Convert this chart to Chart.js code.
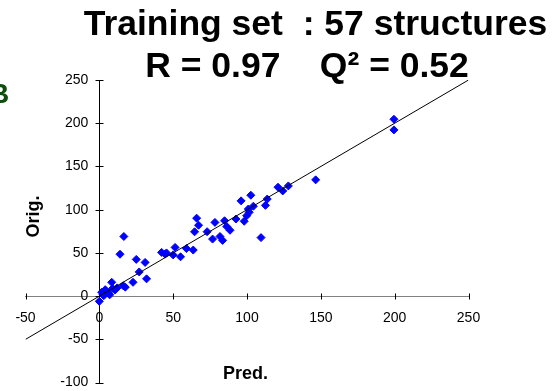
<!DOCTYPE html>
<html>
<head>
<meta charset="utf-8">
<script src="https://cdn.jsdelivr.net/npm/chart.js@4.4.0/dist/chart.umd.min.js"></script>
<style>
body{margin:0;background:#fff;}
#wrap{width:554px;height:391px;}
</style>
</head>
<body>
<div id="wrap"><canvas id="chart" width="554" height="391"></canvas></div>
<script>
// ---------------- DATA ----------------
const predX=[0,1.6,2.5,4,5,6,7,8.4,9,10.6,12,16.2,17.6,22.8,14,16.6,25,27,31,32,
  42.2,44.5,45.5,50,51.3,55,59,63.6,64.5,65.9,67.2,73,76.7,78.3,81.7,83.5,84.8,86.3,88.5,92.5,
  96,98.1,99.8,100.9,101.5,102.6,104.3,109.5,112.5,113.7,121,124.2,128,146.5,199.5,199.5,3];
const origY=[-6,4.5,2,7.5,5.5,3.5,1.5,16,9,7,9.5,12,10.4,16,48.5,69,42.5,28,39,20,
  50.6,48.6,50,47.7,56.4,45.5,55,53.3,74.4,90.2,82,74.5,66,85.3,69,64.5,87.2,80.5,76.2,89.2,
  110.2,86.6,93,100.8,97,116.7,104,67.7,105,112.3,126,121.7,127.5,134.5,204.6,192.3,0.5];
const lineX=[-50,250];
const lineY=[-50,250];
const xTicks=[-50,0,50,100,150,200,250];
const yTicks=[-100,-50,0,50,100,150,200,250];
const titleLines=["Training set  : 57 structures","R = 0.97    Q\u00b2 = 0.52"];

const FONT='"Liberation Sans", Arial, sans-serif';

// ---------------- PLUGINS ----------------
// ticks that cross the axis lines
const crossTicks={
  id:'crossTicks',
  beforeDatasetsDraw(chart){
    const {ctx,scales:{x,y}}=chart;
    const x0=Math.round(x.getPixelForValue(0))+0.5, y0=Math.round(y.getPixelForValue(0))+0.5;
    ctx.save();
    ctx.strokeStyle='#000';ctx.lineWidth=1;
    ctx.beginPath();
    xTicks.forEach(v=>{const px=Math.round(x.getPixelForValue(v))+0.5;ctx.moveTo(px,y0-3);ctx.lineTo(px,y0+3);});
    yTicks.forEach(v=>{const py=Math.round(y.getPixelForValue(v))+0.5;ctx.moveTo(x0-4,py);ctx.lineTo(x0+4,py);});
    ctx.stroke();
    ctx.restore();
  }
};

// y axis placed at a value: its labels sit on the line, push them left
const labelShift={
  id:'labelShift',
  beforeDraw(chart){
    const yi=chart.scales.y.getLabelItems();
    if(!yi._shifted){yi.forEach(it=>{it.options.translation[0]-=11;});yi._shifted=true;}
  }
};

const texts={
  id:'texts',
  afterDraw(chart){
    const ctx=chart.ctx;
    ctx.save();
    ctx.textBaseline='alphabetic';
    ctx.fillStyle='#000';
    ctx.textAlign='center';
    ctx.font='bold 35.5px '+FONT;
    ctx.fillText(titleLines[0],315.5,34.5);
    ctx.fillText(titleLines[1],307,77);
    ctx.font='bold 18px '+FONT;
    ctx.fillText('Pred.',245.5,379.3);
    ctx.save();
    ctx.translate(38.5,216.5);ctx.rotate(-Math.PI/2);
    ctx.fillText('Orig.',0,0);
    ctx.restore();
    ctx.textAlign='left';
    ctx.fillStyle='#0b4f0b';
    ctx.font='bold 28px '+FONT;
    ctx.fillText('B',-11,103);
    ctx.restore();
  }
};

// ---------------- CHART ----------------
new Chart(document.getElementById('chart'),{
  type:'scatter',
  data:{
    datasets:[
      {label:'Trend',data:lineX.map((v,i)=>({x:v,y:lineY[i]})),showLine:true,borderColor:'#000',borderWidth:1,pointRadius:0,fill:false},
      {label:'Orig vs Pred',data:predX.map((v,i)=>({x:v,y:origY[i]})),pointStyle:'rectRot',pointRadius:4,
       backgroundColor:'#0000ff',borderColor:'#0000ff',borderWidth:1}
    ]
  },
  options:{
    responsive:false,animation:false,devicePixelRatio:1,
    layout:{padding:{left:25.5,right:85.5,top:80,bottom:8.4}},
    plugins:{legend:{display:false},tooltip:{enabled:false}},
    scales:{
      x:{type:'linear',min:-50,max:250,position:{y:0},
        afterBuildTicks:s=>{s.ticks=xTicks.map(v=>({value:v}));},
        grid:{display:false,tickLength:4},
        border:{color:'#808080',width:1},
        ticks:{color:'#000',font:{family:FONT,size:14},padding:10,maxRotation:0,autoSkip:false}},
      y:{type:'linear',min:-100,max:250,position:{x:0},
        afterBuildTicks:s=>{s.ticks=yTicks.map(v=>({value:v}));},
        grid:{display:false,tickLength:4},
        border:{color:'#000',width:1},
        ticks:{color:'#000',font:{family:FONT,size:14},padding:0,autoSkip:false}}
    }
  },
  plugins:[crossTicks,labelShift,texts]
});
</script>
</body>
</html>
